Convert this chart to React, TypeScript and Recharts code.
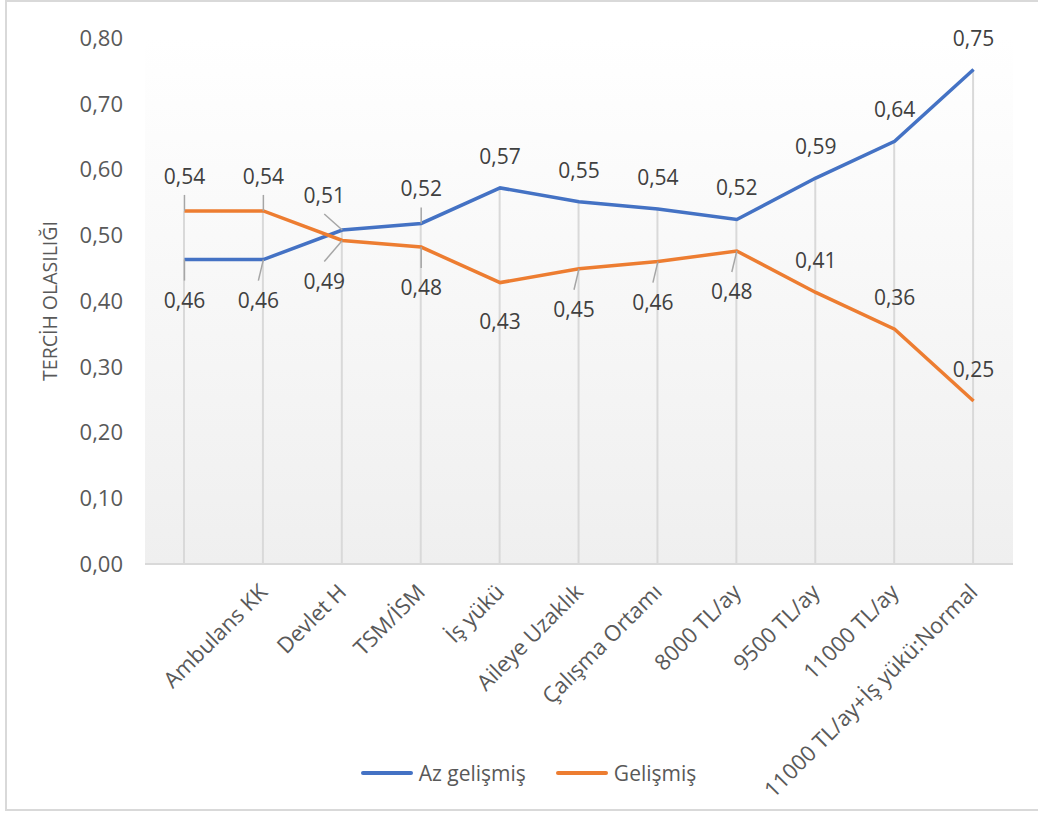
import React from "react";
import {
  Bar,
  CartesianGrid,
  ComposedChart,
  LabelList,
  Legend,
  Line,
  XAxis,
  YAxis,
} from "recharts";

const categories = [
  "",
  "Ambulans KK",
  "Devlet H",
  "TSM/İSM",
  "İş yükü",
  "Aileye Uzaklık",
  "Çalışma Ortamı",
  "8000 TL/ay",
  "9500 TL/ay",
  "11000 TL/ay",
  "11000 TL/ay+İş yükü:Normal",
];

const azGelismis = [0.463, 0.463, 0.508, 0.518, 0.572, 0.551, 0.54, 0.524, 0.587, 0.643, 0.752];
const gelismis = [0.537, 0.537, 0.492, 0.482, 0.428, 0.449, 0.46, 0.476, 0.413, 0.357, 0.248];

const yTicks = [0, 0.1, 0.2, 0.3, 0.4, 0.5, 0.6, 0.7, 0.8];

const BLUE = "#4472C4";
const ORANGE = "#ED7D31";
const FONT = "'Open Sans', sans-serif";

const data = categories.map((name, i) => ({
  name,
  az: azGelismis[i],
  gel: gelismis[i],
  top: Math.max(azGelismis[i], gelismis[i]),
}));

const fmt = (v: number) => v.toFixed(2).replace(".", ",");

// excel-style data labels with the little leader lines
function makeLabel(series: "az" | "gel") {
  return (props: any) => {
    const index: number = props.index;
    const x: number = props.x ?? props.viewBox?.x;
    const y: number = props.y ?? props.viewBox?.y;
    if (x == null || y == null) return null;
    const below = series === "az" ? index < 2 : index >= 2 && index <= 7;
    const leader = index < 4 || (series === "gel" && index >= 5 && index <= 7);
    let dx = 0;
    if (index === 2) dx = -18;
    else if (below && leader && index !== 0 && index !== 3) dx = -5;
    const dy = below ? (leader ? 40 : 38) : leader ? -35 : -32;
    const sign = below ? 1 : -1;
    return (
      <g>
        {leader && (
          <line
            x1={x}
            y1={y}
            x2={x + dx}
            y2={y + dy - sign * 19}
            stroke="#a6a6a6"
            strokeWidth={1.5}
          />
        )}
        <text
          x={x + dx}
          y={y + dy}
          textAnchor="middle"
          dominantBaseline="central"
          fontSize={21}
          fontFamily={FONT}
          fill="#404040"
        >
          {fmt(props.value)}
        </text>
      </g>
    );
  };
}

const XTick = ({ x, y, payload }: any) => {
  const ty = y + 16;
  return (
    <text
      x={x}
      y={ty}
      dy="0.35em"
      textAnchor="end"
      transform={`rotate(-45 ${x} ${ty})`}
      fontSize={22}
      fontFamily={FONT}
      fill="#595959"
    >
      {payload.value}
    </text>
  );
};

const LegendContent = () => (
  <div
    style={{
      display: "flex",
      justifyContent: "center",
      gap: 29,
      paddingLeft: 18,
      fontFamily: FONT,
      fontSize: 21,
      color: "#595959",
      lineHeight: "28px",
    }}
  >
    {[
      { name: "Az gelişmiş", color: BLUE },
      { name: "Gelişmiş", color: ORANGE },
    ].map((item) => (
      <div key={item.name} style={{ display: "flex", alignItems: "center" }}>
        <svg width={54} height={8} style={{ marginRight: 5 }}>
          <line x1={3} y1={4} x2={51} y2={4} stroke={item.color} strokeWidth={4} strokeLinecap="round" />
        </svg>
        <span>{item.name}</span>
      </div>
    ))}
  </div>
);

export default function App() {
  return (
    <div
      style={{
        position: "absolute",
        left: 0,
        top: 0,
        width: 1038,
        height: 816,
        overflow: "hidden",
        background: "#fff",
      }}
    >
      <div
        style={{
          position: "absolute",
          left: 5,
          top: 0,
          width: 1040,
          height: 811,
          border: "2px solid #d9d9d9",
          boxSizing: "border-box",
        }}
      />
      <div style={{ position: "absolute", left: 0, top: 0 }}>
        <ComposedChart
          width={1038}
          height={816}
          data={data}
          margin={{ top: 38, right: 25, left: 30, bottom: 0 }}
          style={{ fontFamily: FONT }}
        >
          <defs>
            <linearGradient id="plotBg" x1="0" y1="0" x2="0" y2="1">
              <stop offset="0%" stopColor="#ffffff" />
              <stop offset="100%" stopColor="#efefef" />
            </linearGradient>
          </defs>
          <CartesianGrid horizontal={false} vertical={false} fill="url(#plotBg)" />
          <XAxis
            dataKey="name"
            height={224}
            interval={0}
            axisLine={{ stroke: "#d9d9d9", strokeWidth: 2 }}
            tickLine={false}
            tick={<XTick />}
          />
          <YAxis
            domain={[0, 0.8]}
            ticks={yTicks}
            width={115}
            axisLine={false}
            tickLine={false}
            tickMargin={16}
            tickFormatter={fmt}
            tick={{ fontSize: 22, fill: "#595959", fontFamily: FONT }}
            label={{
              value: "TERCİH OLASILIĞI",
              angle: -90,
              position: "insideLeft",
              offset: 20,
              style: { textAnchor: "middle", fontSize: 19.5, fill: "#595959", fontFamily: FONT },
            }}
          />
          <Bar dataKey="top" barSize={2} fill="#d9d9d9" isAnimationActive={false} legendType="none" />
          <Line
            dataKey="az"
            name="Az gelişmiş"
            stroke={BLUE}
            strokeWidth={3.5}
            dot={false}
            isAnimationActive={false}
          >
            <LabelList dataKey="az" content={makeLabel("az")} />
          </Line>
          <Line
            dataKey="gel"
            name="Gelişmiş"
            stroke={ORANGE}
            strokeWidth={3.5}
            dot={false}
            isAnimationActive={false}
          >
            <LabelList dataKey="gel" content={makeLabel("gel")} />
          </Line>
          <Legend
            verticalAlign="bottom"
            height={28}
            content={<LegendContent />}
            wrapperStyle={{ left: 0, width: 1038, top: 759, height: 28 }}
          />
        </ComposedChart>
      </div>
    </div>
  );
}
